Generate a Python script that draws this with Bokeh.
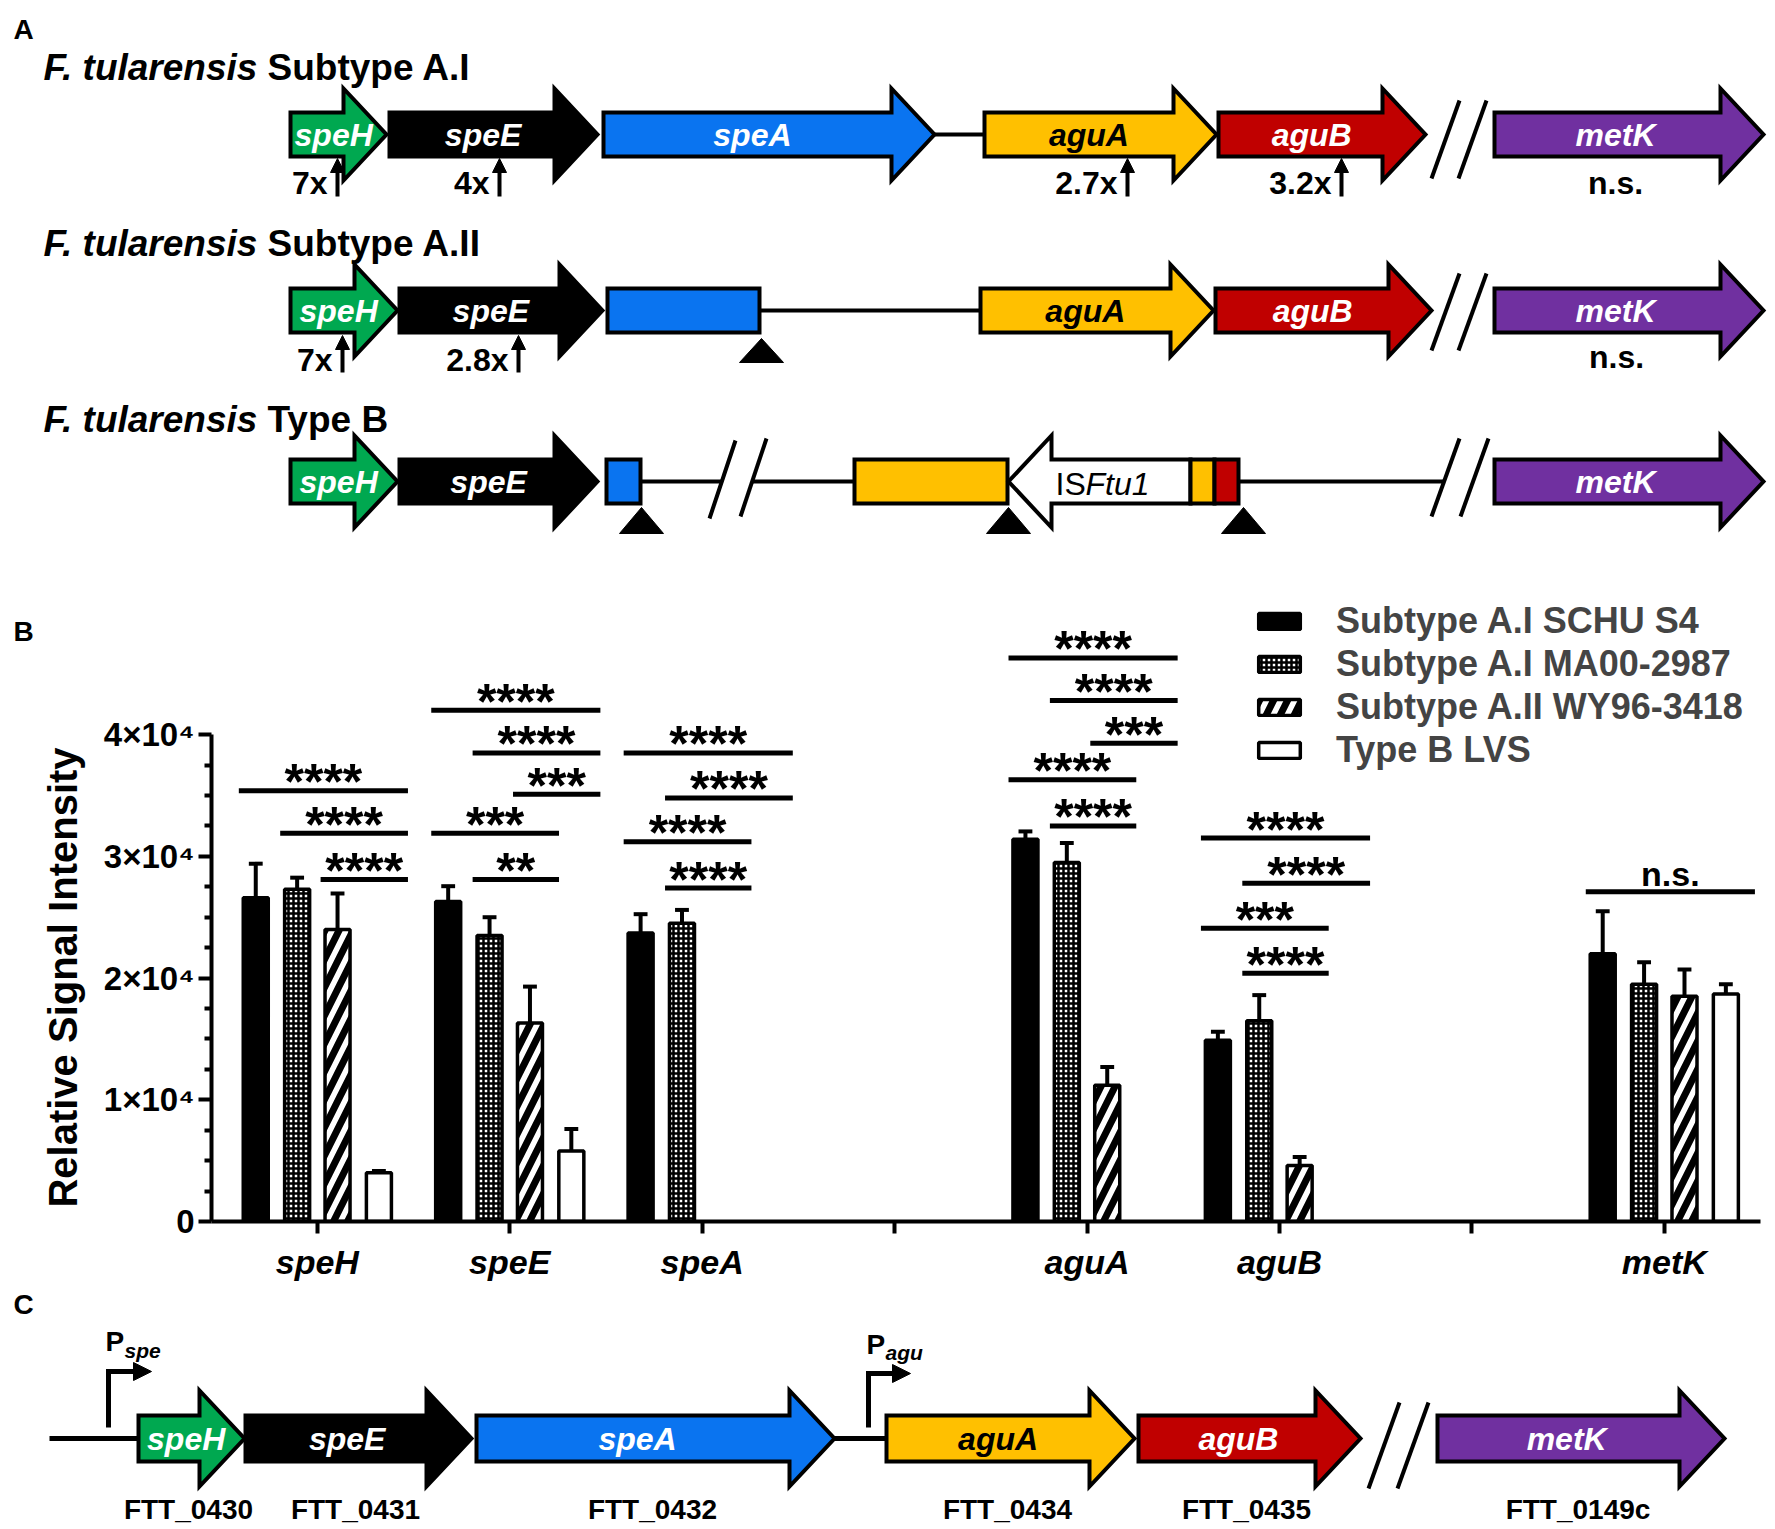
import math
from bokeh.plotting import figure
from bokeh.layouts import column, row
from bokeh.models import Range1d, FixedTicker, Legend, LegendItem, ColumnDataSource
from bokeh.core.properties import value
from bokeh.embed import file_html
from bokeh.resources import INLINE

FONT = "Liberation Sans"

# ================= Panel B data =================
categories = ["speH", "speE", "speA", "", "aguA", "aguB", "", "metK"]
series_names = ["Subtype A.I SCHU S4", "Subtype A.I MA00-2987",
                "Subtype A.II WY96-3418", "Type B LVS"]
schu_s4 = [26600, 26300, 23700, None, 31400, 14900, None, 22000]
schu_s4_err = [2800, 1250, 1550, None, 650, 700, None, 3500]
ma00 = [27300, 23500, 24500, None, 29500, 16500, None, 19500]
ma00_err = [950, 1500, 1100, None, 1600, 2100, None, 1800]
wy96 = [24000, 16300, None, None, 11200, 4600, None, 18500]
wy96_err = [2950, 3000, None, None, 1500, 700, None, 2200]
lvs = [4000, 5800, None, None, None, None, None, 18700]
lvs_err = [150, 1800, None, None, None, None, None, 800]

y_ticks = [0, 10000, 20000, 30000, 40000]
y_tick_labels = ["0", "1×10⁴", "2×10⁴", "3×10⁴", "4×10⁴"]
y_title = "Relative Signal Intensity"

# significance comparisons: category index, bar from, bar to, height, label
sig_gene = [0, 0, 0, 1, 1, 1, 1, 1, 2, 2, 2, 2, 4, 4, 4, 4, 4, 5, 5, 5, 5, 7]
sig_from = [0, 1, 2, 0, 1, 2, 0, 1, 0, 1, 0, 1, 0, 1, 2, 0, 1, 0, 1, 0, 1, 0]
sig_to = [3, 3, 3, 3, 3, 3, 2, 2, 3, 3, 2, 2, 3, 3, 3, 2, 2, 3, 3, 2, 2, 3]
sig_y = [35400, 31900, 28100, 42000, 38500, 35100, 31900, 28100,
         38500, 34800, 31200, 27400, 46300, 42800, 39300, 36300, 32500,
         31500, 27800, 24100, 20400, 27100]
sig_text = ["****", "****", "****", "****", "****", "***", "***", "**",
            "****", "****", "****", "****", "****", "****", "***", "****", "****",
            "****", "****", "***", "****", "n.s."]

# ================= Panel A / C diagram data =================
row_titles = ["Subtype A.I", "Subtype A.II", "Type B"]

a1_genes = ["speH", "speE", "speA", "aguA", "aguB", "metK"]
a1_start = [290, 389, 603, 984, 1218, 1494]
a1_end = [386, 597, 934, 1216, 1425, 1763]
a1_fold = ["7x", "4x", "2.7x", "3.2x"]
a1_fold_at = [337, 499, 1127, 1341]

a2_genes = ["speH", "speE", "aguA", "aguB", "metK"]
a2_start = [290, 399, 980, 1215, 1494]
a2_end = [397, 602, 1213, 1431, 1763]
a2_fold = ["7x", "2.8x"]
a2_fold_at = [342, 518]

a3_genes = ["speH", "speE", "metK"]
a3_start = [290, 399, 1494]
a3_end = [397, 597, 1763]

c_genes = ["speH", "speE", "speA", "aguA", "aguB", "metK"]
c_start = [138, 245, 476, 886, 1138, 1437]
c_end = [244, 471, 834, 1134, 1360, 1724]
c_locus = ["FTT_0430", "FTT_0431", "FTT_0432", "FTT_0434", "FTT_0435", "FTT_0149c"]

GENE_FILL = {"speH": "#00A850", "speE": "#000000", "speA": "#0A74F0",
             "aguA": "#FFC000", "aguB": "#C00000", "metK": "#7030A0"}
GENE_TEXT = {"speH": "white", "speE": "white", "speA": "white",
             "aguA": "black", "aguB": "white", "metK": "white"}

W = 1775


def arrow_poly(x0, x1, yc, bh, hh, hl):
    xh = x1 - hl
    return ([x0, xh, xh, x1, xh, xh, x0],
            [yc - bh, yc - bh, yc - hh, yc, yc + hh, yc + bh, yc + bh])


def left_arrow_poly(xt, x1, yc, bh, hh, hl):
    xh = xt + hl
    return ([x1, xh, xh, xt, xh, xh, x1],
            [yc - bh, yc - bh, yc - hh, yc, yc + hh, yc + bh, yc + bh])


def rect_poly(x0, x1, yc, bh):
    return ([x0, x1, x1, x0], [yc - bh, yc - bh, yc + bh, yc + bh])


def txt(p, xs, ys, texts, size, style="bold", align="left", color="black", angle=0):
    p.text(x=xs, y=ys, text=texts, text_font=value(FONT), text_font_style=style,
           text_font_size=size, text_align=align, text_baseline="middle", text_color=color,
           angle=angle)


def draw_genes(p, names, starts, ends, yc, bh, hh, hl, fs):
    xs, ys, fills = [], [], []
    for n, a, b in zip(names, starts, ends):
        px, py = arrow_poly(a, b, yc, bh, hh, hl)
        xs.append(px); ys.append(py); fills.append(GENE_FILL[n])
    p.patches(xs, ys, fill_color=fills, line_color="black", line_width=4, line_join="miter")
    txt(p, [a + 0.45 * (b - a) for a, b in zip(starts, ends)], [yc] * len(names), names, fs,
        style="bold italic", align="center", color=[GENE_TEXT[n] for n in names])


def draw_break(p, segs):
    p.segment(x0=[s[0] for s in segs], y0=[s[1] for s in segs],
              x1=[s[2] for s in segs], y1=[s[3] for s in segs],
              line_color="black", line_width=4)


def up_arrows(p, xs, ybot, ytop):
    p.segment(x0=xs, y0=[ybot] * len(xs), x1=xs, y1=[ytop + 8] * len(xs),
              line_color="black", line_width=4)
    p.patches([[x - 7, x + 7, x] for x in xs], [[ytop + 12, ytop + 12, ytop - 2] for _ in xs],
              fill_color="black", line_color="black", line_width=1)


def insertion_marks(p, xs, ytop, ybot):
    p.patches([[x - 22, x + 22, x] for x in xs], [[ybot, ybot, ytop] for _ in xs],
              fill_color="black", line_color="black", line_width=1)


def diagram_fig(w, h, xr, yr):
    p = figure(width=w, height=h, x_range=xr, y_range=yr,
               x_axis_type=None, y_axis_type=None, toolbar_location=None,
               output_backend="svg", min_border=0, outline_line_color=None)
    p.frame_align = False
    return p


# ================= Panel A =================
pa = diagram_fig(W, 590, Range1d(0, W), Range1d(590, 0))
BH, HH, HL = 22, 46, 43
R1, R2, R3 = 134, 310, 481

txt(pa, [23], [29], ["A"], "28px", align="center")
title_y = [67, 243, 419]
txt(pa, [43] * 3, title_y, ["F. tularensis"] * 3, "37px", style="bold italic")
txt(pa, [267] * 3, title_y, row_titles, "37px")

# row 1
pa.segment(x0=[934], y0=[R1], x1=[984], y1=[R1], line_color="black", line_width=4)
draw_genes(pa, a1_genes, a1_start, a1_end, R1, BH, HH, HL, "32px")
draw_break(pa, [(1459, 100, 1431, 178), (1486, 100, 1458, 178)])
txt(pa, [x - 10 for x in a1_fold_at], [182] * len(a1_fold), a1_fold, "32px", align="right")
up_arrows(pa, a1_fold_at, 196, 160)
txt(pa, [1615], [182], ["n.s."], "32px", align="center")

# row 2
pa.segment(x0=[759], y0=[R2], x1=[980], y1=[R2], line_color="black", line_width=4)
bx, by = rect_poly(607, 759, R2, BH)
pa.patch(bx, by, fill_color=GENE_FILL["speA"], line_color="black", line_width=4, line_join="miter")
draw_genes(pa, a2_genes, a2_start, a2_end, R2, BH, HH, HL, "32px")
draw_break(pa, [(1459, 273, 1431, 350), (1486, 273, 1458, 350)])
txt(pa, [x - 10 for x in a2_fold_at], [359] * len(a2_fold), a2_fold, "32px", align="right")
up_arrows(pa, a2_fold_at, 372, 337)
txt(pa, [1616], [356], ["n.s."], "32px", align="center")
insertion_marks(pa, [761], 338, 362)

# row 3
pa.segment(x0=[640, 751, 1238], y0=[R3] * 3, x1=[722, 854, 1444], y1=[R3] * 3,
           line_color="black", line_width=4)
draw_break(pa, [(735, 440, 709, 518), (766, 438, 740, 516),
                (1459, 438, 1431, 516), (1488, 438, 1460, 516)])
rx, ry = [], []
for a, b in [(606, 640), (854, 1007)]:
    px, py = rect_poly(a, b, R3, BH)
    rx.append(px); ry.append(py)
pa.patches(rx, ry, fill_color=[GENE_FILL["speA"], GENE_FILL["aguA"]], line_color="black",
           line_width=4, line_join="miter")
ix, iy = left_arrow_poly(1008, 1190, R3, BH, HH, HL)
pa.patch(ix, iy, fill_color="white", line_color="black", line_width=4, line_join="miter")
sx, sy = [], []
for a, b in [(1190, 1214), (1214, 1238)]:
    px, py = rect_poly(a, b, R3, BH)
    sx.append(px); sy.append(py)
pa.patches(sx, sy, fill_color=[GENE_FILL["aguA"], GENE_FILL["aguB"]], line_color="black",
           line_width=4, line_join="miter")
draw_genes(pa, a3_genes, a3_start, a3_end, R3, BH, HH, HL, "32px")
txt(pa, [1055], [483], ["IS"], "32px", style="normal")
txt(pa, [1085], [483], ["Ftu1"], "32px", style="italic")
insertion_marks(pa, [641, 1008, 1243], 507, 533)

# ================= Panel B =================
LW = 95
pbl = diagram_fig(LW, 700, Range1d(0, LW), Range1d(0, 700))
txt(pbl, [23], [1290 - 631], ["B"], "28px", align="center")
txt(pbl, [62], [1290 - 977], [y_title], "40px", align="center", angle=math.pi / 2)

FRAME_L = 211
pb = figure(width=W - LW, height=700, x_range=Range1d(-0.55, 7.5), y_range=Range1d(0, 51680),
            toolbar_location=None, output_backend="svg",
            min_border_left=FRAME_L - LW, min_border_right=15, min_border_top=2,
            min_border_bottom=69)
pb.frame_align = False
pb.outline_line_color = None
pb.grid.visible = False
PXU = 629 / 51680.0  # pixels per data unit on the y axis

OFFS = [-0.32, -0.105, 0.105, 0.32]
BAR_W = 0.13
CAP = 0.036
means = [schu_s4, ma00, wy96, lvs]
errs = [schu_s4_err, ma00_err, wy96_err, lvs_err]
styles = [
    dict(fill_color="black"),
    dict(fill_color="white", hatch_pattern="cross", hatch_scale=5, hatch_weight=2.5,
         hatch_color="black"),
    dict(fill_color="white", hatch_pattern="right_diagonal_line", hatch_scale=28,
         hatch_weight=7, hatch_color="black"),
    dict(fill_color="white"),
]
bar_renderers = []
for si in range(4):
    xs = [gi + OFFS[si] for gi, v in enumerate(means[si]) if v is not None]
    tops = [v for v in means[si] if v is not None]
    es = [e for e in errs[si] if e is not None]
    src = ColumnDataSource(dict(x=xs, top=tops))
    r = pb.vbar(x="x", top="top", bottom=0, width=BAR_W, source=src,
                line_color="black", line_width=3.5, **styles[si])
    bar_renderers.append(r)
    ends = [t + e for t, e in zip(tops, es)]
    pb.segment(x0=xs, y0=tops, x1=xs, y1=ends, line_color="black", line_width=4)
    pb.segment(x0=[x - CAP for x in xs], y0=ends, x1=[x + CAP for x in xs], y1=ends,
               line_color="black", line_width=4)

sx0 = [g + OFFS[i] - 0.088 for g, i in zip(sig_gene, sig_from)]
sx1 = [g + OFFS[j] + 0.151 for g, j in zip(sig_gene, sig_to)]
pb.segment(x0=sx0, y0=sig_y, x1=sx1, y1=sig_y, line_color="black", line_width=5)
star_idx = [k for k, t in enumerate(sig_text) if "*" in t]
ns_idx = [k for k, t in enumerate(sig_text) if "*" not in t]
txt(pb, [(sx0[k] + sx1[k]) / 2 for k in star_idx], [sig_y[k] + 8.5 / PXU for k in star_idx],
    [sig_text[k] for k in star_idx], "50px", align="center")
txt(pb, [(sx0[k] + sx1[k]) / 2 for k in ns_idx], [sig_y[k] + 18 / PXU for k in ns_idx],
    [sig_text[k] for k in ns_idx], "34px", align="center")

xa = pb.xaxis[0]
xa.ticker = FixedTicker(ticks=list(range(len(categories))))
xa.major_label_overrides = {i: c for i, c in enumerate(categories)}
xa.major_label_text_font = FONT
xa.major_label_text_font_style = "bold italic"
xa.major_label_text_font_size = "34px"
xa.major_label_text_color = "black"
xa.major_label_standoff = 9
xa.major_tick_in = 0
xa.major_tick_out = 12
xa.minor_tick_line_color = None
xa.axis_line_width = 4
xa.major_tick_line_width = 4

ya = pb.yaxis[0]
ya.bounds = (0, 40000)
ya.ticker = FixedTicker(ticks=y_ticks,
                        minor_ticks=[t + k * 2500 for t in y_ticks[:-1] for k in (1, 2, 3)])
ya.major_label_overrides = dict(zip(y_ticks, y_tick_labels))
ya.major_label_text_font = FONT
ya.major_label_text_font_style = "bold"
ya.major_label_text_font_size = "33px"
ya.major_label_text_color = "black"
ya.major_label_standoff = 4
ya.major_tick_in = 0
ya.major_tick_out = 13
ya.minor_tick_in = 0
ya.minor_tick_out = 7
ya.axis_line_width = 4
ya.major_tick_line_width = 4
ya.minor_tick_line_width = 4

legend = Legend(items=[LegendItem(label=n, renderers=[r]) for n, r in zip(series_names, bar_renderers)],
                location=(1253 - FRAME_L, 450), orientation="vertical",
                label_text_font=FONT, label_text_font_style="bold", label_text_font_size="36px",
                glyph_width=52, glyph_height=20, label_height=43, spacing=0, padding=0, margin=0,
                label_standoff=31, border_line_color=None, background_fill_alpha=0)
pb.add_layout(legend)

# ================= Panel C =================
pc = diagram_fig(W, 239, Range1d(0, W), Range1d(1529, 1290))
RC = 1438
txt(pc, [23], [1304], ["C"], "28px", align="center")
pc.segment(x0=[49, 834], y0=[RC, RC], x1=[138, 886], y1=[RC, RC], line_color="black", line_width=5)
# promoters
pc.multi_line(xs=[[108, 108, 135], [868, 868, 894]], ys=[[1427, 1371, 1371], [1427, 1373, 1373]],
              line_color="black", line_width=5, line_join="miter")
pc.patches([[133, 133, 151], [892, 892, 910]], [[1362, 1380, 1371], [1364, 1382, 1373]],
           fill_color="black", line_color="black", line_width=1)
txt(pc, [105, 866], [1341, 1344], ["P", "P"], "28px")
txt(pc, [124, 885], [1350, 1352], ["spe", "agu"], "21px", style="bold italic")
draw_genes(pc, c_genes, c_start, c_end, RC, 23, 48, 45, "32px")
draw_break(pc, [(1399, 1402, 1368, 1488), (1428, 1402, 1397, 1488)])
txt(pc, [(a + b) / 2 - 3 for a, b in zip(c_start, c_end)], [1509] * len(c_locus), c_locus,
    "28px", align="center")

layout = column(pa, row(pbl, pb, spacing=0), pc, spacing=0)
open("out.html", "w").write(file_html(layout, INLINE))
